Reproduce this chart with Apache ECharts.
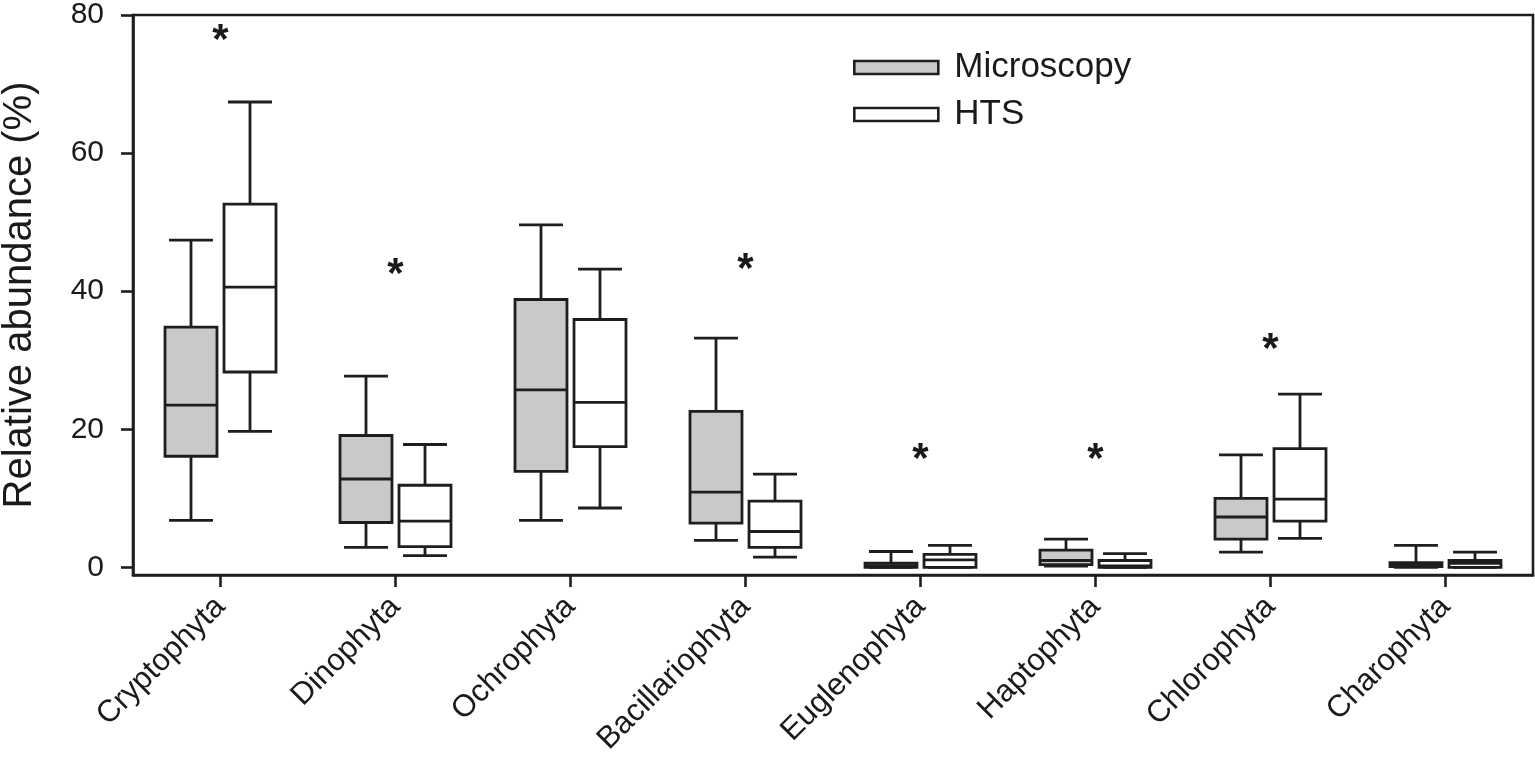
<!DOCTYPE html>
<html>
<head>
<meta charset="utf-8">
<title>Relative abundance</title>
<script src="https://cdn.jsdelivr.net/npm/echarts@6/dist/echarts.min.js"></script>
<style>
html, body { margin: 0; padding: 0; background: #fff; }
#main { width: 1535px; height: 763px; }
</style>
</head>
<body>
<div id="main"></div>
<script>
// 类别
var categories = ['Cryptophyta', 'Dinophyta', 'Ochrophyta', 'Bacillariophyta',
	'Euglenophyta', 'Haptophyta', 'Chlorophyta', 'Charophyta'];

// [min, Q1, median, Q3, max]
var microscopy = [
	[6.8, 16.1, 23.5, 34.8, 47.4],
	[2.9, 6.5, 12.8, 19.1, 27.7],
	[6.8, 13.9, 25.7, 38.8, 49.6],
	[3.9, 6.4, 10.9, 22.6, 33.2],
	[0, 0, 0.2, 0.6, 2.3],
	[0.2, 0.4, 1.0, 2.5, 4.1],
	[2.2, 4.1, 7.3, 10.0, 16.3],
	[0, 0.1, 0.4, 0.7, 3.2]
];
var hts = [
	[19.7, 28.3, 40.6, 52.6, 67.4],
	[1.7, 3.0, 6.7, 11.9, 17.8],
	[8.6, 17.5, 23.9, 35.9, 43.2],
	[1.5, 2.9, 5.2, 9.6, 13.5],
	[0, 0, 1.1, 1.9, 3.2],
	[0, 0, 0.2, 1.0, 2.0],
	[4.2, 6.7, 9.9, 17.2, 25.1],
	[0, 0, 0.6, 1.0, 2.2]
];

// 显著性星号位置 (null = 无)
var starValues = [77.4, 43.5, null, 44.1, 16.6, 16.6, 32.6, null];

var yTicks = [0, 20, 40, 60, 80];

var lineColor = '#1e1e1e';
var grayFill = '#c9c9cb';
var fontFamily = "'Liberation Sans', Arial, sans-serif";

function toRows(arr) {
	var rows = [];
	for (var i = 0; i < arr.length; i++) {
		rows.push([i].concat(arr[i]));
	}
	return rows;
}

function boxRenderer(side, fill) {
	return function(params, api) {
		var idx = api.value(0);
		var band = api.size([1, 0])[0];
		var cx = api.coord([idx, 0])[0] + side * band * 0.1686;
		var half = band * 0.297 / 2;
		var capHalf = band * 0.251 / 2;
		var yMin = api.coord([idx, api.value(1)])[1];
		var yQ1 = api.coord([idx, api.value(2)])[1];
		var yMed = api.coord([idx, api.value(3)])[1];
		var yQ3 = api.coord([idx, api.value(4)])[1];
		var yMax = api.coord([idx, api.value(5)])[1];
		var st = { stroke: lineColor, lineWidth: 2.8 };
		return {
			type : 'group',
			children : [
				{ type: 'line', shape: { x1: cx, y1: yMax, x2: cx, y2: yQ3 }, style: st },
				{ type: 'line', shape: { x1: cx, y1: yQ1, x2: cx, y2: yMin }, style: st },
				{ type: 'line', shape: { x1: cx - capHalf, y1: yMax, x2: cx + capHalf, y2: yMax }, style: st },
				{ type: 'line', shape: { x1: cx - capHalf, y1: yMin, x2: cx + capHalf, y2: yMin }, style: st },
				{ type: 'rect', shape: { x: cx - half, y: yQ3, width: half * 2, height: Math.max(yQ1 - yQ3, 0.5) },
					style: { fill: fill, stroke: lineColor, lineWidth: 2.8 } },
				{ type: 'line', shape: { x1: cx - half, y1: yMed, x2: cx + half, y2: yMed }, style: st }
			]
		};
	};
}

var starRows = [];
for (var s = 0; s < starValues.length; s++) {
	if (starValues[s] != null) {
		starRows.push([s, starValues[s]]);
	}
}

var chart = echarts.init(document.getElementById('main'));
var option = {
	backgroundColor : '#fff',
	animation : false,
	textStyle : { fontFamily: fontFamily },
	grid : {
		left : 133,
		right : 2,
		top : 15,
		bottom : 188,
		outerBoundsMode : 'none',
		containLabel : false,
		show : true,
		borderColor : lineColor,
		borderWidth : 2.6
	},
	legend : {
		orient : 'vertical',
		left : 853,
		top : 50,
		padding : 0,
		itemWidth : 84,
		itemHeight : 13,
		itemGap : 12,
		textStyle : { fontSize: 35, color: '#1a1a1a', fontFamily: fontFamily, padding: [0, 0, 0, 11] },
		data : [
			{ name: 'Microscopy', icon: 'rect', itemStyle: { color: grayFill, borderColor: lineColor, borderWidth: 2.6 } },
			{ name: 'HTS', icon: 'rect', itemStyle: { color: '#fff', borderColor: lineColor, borderWidth: 2.6 } }
		]
	},
	xAxis : {
		type : 'category',
		data : categories,
		boundaryGap : true,
		axisLine : { onZero: false, lineStyle: { color: lineColor, width: 2.6 } },
		axisTick : { show: true, alignWithLabel: true, length: 12, lineStyle: { color: lineColor, width: 2.6 } },
		axisLabel : { rotate: 45, fontSize: 31, color: '#1a1a1a', margin: 27, interval: 0, fontFamily: fontFamily },
		splitLine : { show: false }
	},
	yAxis : {
		type : 'value',
		min : -1.1,
		max : 80,
		name : 'Relative abundance (%)',
		nameLocation : 'middle',
		nameGap : 93,
		nameTextStyle : { fontSize: 40, color: '#1a1a1a', fontFamily: fontFamily },
		axisLine : { show: true, lineStyle: { color: lineColor, width: 2.6 } },
		axisTick : { show: true, length: 12, customValues: yTicks, lineStyle: { color: lineColor, width: 2.6 } },
		axisLabel : { fontSize: 30, color: '#1a1a1a', margin: 29, customValues: yTicks, fontFamily: fontFamily },
		splitLine : { show: false }
	},
	series : [
		{
			name : 'Microscopy',
			type : 'custom',
			renderItem : boxRenderer(-1, grayFill),
			encode : { x: 0, y: [1, 2, 3, 4, 5] },
			itemStyle : { color: grayFill },
			data : toRows(microscopy)
		},
		{
			name : 'HTS',
			type : 'custom',
			renderItem : boxRenderer(1, '#fff'),
			encode : { x: 0, y: [1, 2, 3, 4, 5] },
			itemStyle : { color: '#fff' },
			data : toRows(hts)
		},
		{
			name : 'stars',
			type : 'custom',
			renderItem : function(params, api) {
				var p = api.coord([api.value(0), api.value(1)]);
				return {
					type : 'text',
					x : p[0],
					y : p[1] + 8,
					style : {
						text : '*',
						fontSize : 42,
						fontWeight : 'bold',
						fontFamily : fontFamily,
						fill : '#1a1a1a',
						align : 'center',
						verticalAlign : 'middle'
					}
				};
			},
			encode : { x: 0, y: 1 },
			data : starRows
		}
	]
};
chart.setOption(option);
</script>
</body>
</html>
